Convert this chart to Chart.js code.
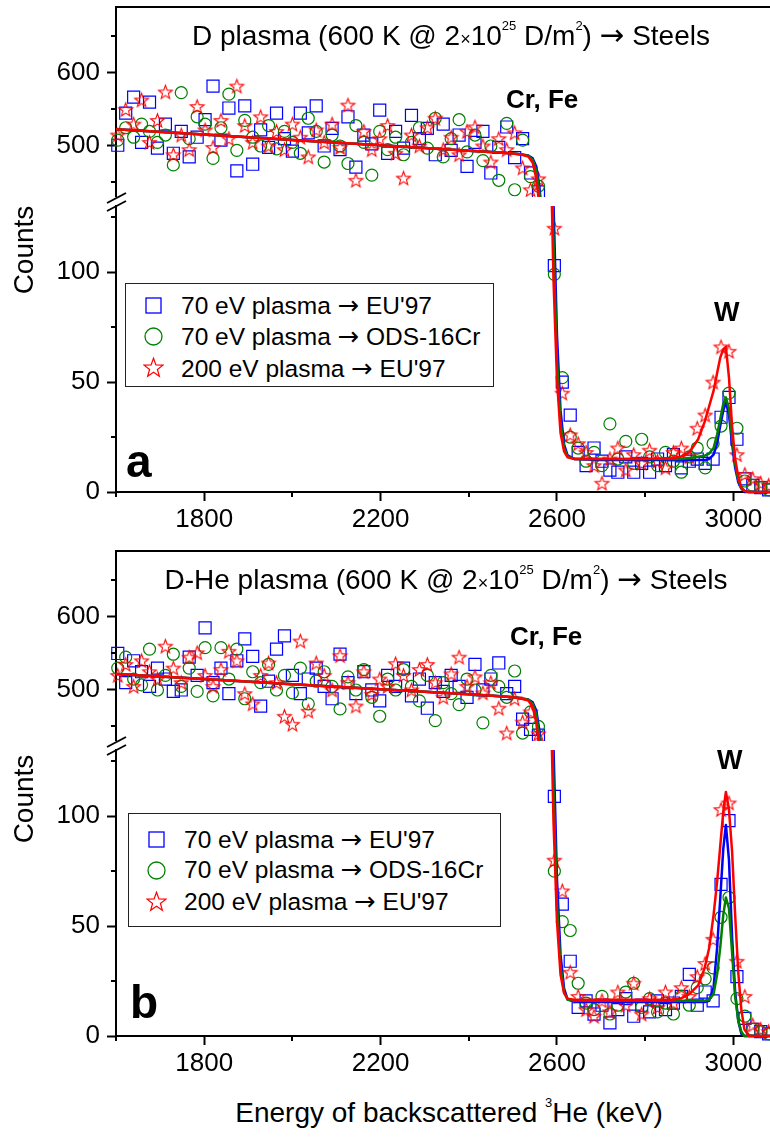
<!DOCTYPE html>
<html><head><meta charset="utf-8">
<script src="https://cdn.jsdelivr.net/npm/chart.js@4.4.1/dist/chart.umd.min.js"></script>
<style>
html,body{margin:0;padding:0;background:#fff;}
#wrap{position:relative;width:770px;height:1140px;overflow:hidden;font-family:"Liberation Sans",Arial,Helvetica,sans-serif;color:#000;}
#wrap canvas{position:absolute;left:0;}
.t{position:absolute;white-space:nowrap;}
.t sup{font-size:13px;line-height:0;vertical-align:baseline;position:relative;top:-15px;}
.ar{font-family:"DejaVu Sans",sans-serif;font-size:1.05em;}
.bold{font-weight:bold;}
.legend{position:absolute;border:1px solid #222;box-sizing:border-box;background:#fff;}
.rot{position:absolute;width:200px;text-align:center;transform:rotate(-90deg);white-space:nowrap;}
</style></head>
<body><div id="wrap">
<canvas id="aU" width="770" height="197" style="top:0px"></canvas>
<canvas id="aL" width="770" height="347" style="top:197px"></canvas>
<canvas id="bU" width="770" height="197" style="top:544px"></canvas>
<canvas id="bL" width="770" height="347" style="top:741px"></canvas>

<div class="t" style="left:451px;top:21px;font-size:28px;line-height:28px;transform:translateX(-50%)">D plasma (600 K @ 2<span style="font-size:18px">×</span>10<sup>25</sup> D/m<sup>2</sup>) <span class="ar">→</span> Steels</div>
<div class="t" style="left:446px;top:565px;font-size:28px;line-height:28px;transform:translateX(-50%)">D-He plasma (600 K @ 2<span style="font-size:18px">×</span>10<sup>25</sup> D/m<sup>2</sup>) <span class="ar">→</span> Steels</div>
<div class="t bold" style="left:506px;top:86px;font-size:26px;line-height:26px">Cr, Fe</div>
<div class="t bold" style="left:510px;top:623px;font-size:26px;line-height:26px">Cr, Fe</div>
<div class="t bold" style="left:714px;top:299px;font-size:27px;line-height:27px">W</div>
<div class="t bold" style="left:717px;top:747px;font-size:27px;line-height:27px">W</div>
<div class="t bold" style="left:126px;top:438px;font-size:46px;line-height:46px">a</div>
<div class="t bold" style="left:130px;top:979px;font-size:46px;line-height:46px">b</div>
<div class="rot" style="left:-76px;top:236px;font-size:28px;line-height:28px">Counts</div>
<div class="rot" style="left:-76px;top:785px;font-size:28px;line-height:28px">Counts</div>
<div class="t" style="left:449px;top:1099px;font-size:28px;line-height:28px;transform:translateX(-50%)">Energy of backscattered <sup>3</sup>He (keV)</div>
</div>
<script>
// ---------------- data ----------------
const energy = [
1604,1622,1640,1658,1676,1694,1712,1730,1748,1766,
1784,1802,1820,1838,1856,1874,1892,1910,1928,1946,
1964,1982,2000,2018,2036,2054,2072,2090,2108,2126,
2144,2162,2180,2198,2216,2234,2252,2270,2288,2306,
2324,2342,2360,2378,2396,2414,2432,2450,2468,2486,
2504,2522,2540,2558,2576,2594,2612,2630,2648,2666,
2684,2702,2720,2738,2756,2774,2792,2810,2828,2846,
2864,2882,2900,2918,2936,2954,2972,2990,3008,3026,
3044,3062,3080];

// panel a : D plasma
const blueA = [
501,545,567,505,560,497,530,490,520,485,
512,536,582,508,552,466,555,475,522,498,
545,510,493,545,518,555,500,524,495,540,
471,515,503,549,490,520,497,542,510,524,
488,530,494,515,472,505,520,463,498,526,
484,510,463,437,300,103,50,35,18,12,
20,14,10,9,16,9,13,9,15,12,
17,11,14,15,13,15,34,43,24,6,
3,2,1];
const greenA = [
508,525,512,530,520,505,515,474,573,510,
540,530,483,525,571,494,535,512,500,528,
496,520,505,490,538,520,478,515,500,476,
528,505,460,520,495,512,488,505,525,497,
538,485,510,536,492,515,480,500,453,531,
440,508,458,445,290,99,52,25,20,14,
18,12,31,15,23,13,24,16,12,18,
14,9,16,20,11,22,30,45,29,5,
3,2,1];
const redA = [
515,550,530,563,505,535,574,488,515,495,
554,522,498,535,510,582,528,505,540,500,
520,495,530,512,485,522,505,530,498,556,
453,520,495,510,528,490,456,515,500,525,
538,495,512,488,520,526,500,478,510,495,
518,470,440,455,310,120,45,26,22,18,
12,4,15,20,10,17,13,19,14,11,
18,20,16,29,35,50,66,64,17,8,
6,4,3];

// panel b : D-He plasma
const blueB = [
550,510,540,525,505,530,515,498,500,545,
520,585,510,530,495,540,570,546,478,512,
556,574,520,495,515,530,505,488,549,510,
495,525,500,485,520,505,530,492,515,475,
510,498,520,505,490,535,500,515,537,495,
505,460,446,438,300,109,60,34,13,16,
10,14,6,12,17,9,14,11,16,12,
15,18,28,14,20,16,69,98,27,8,
3,2,1];
const greenB = [
530,545,515,507,556,500,520,549,505,530,
498,558,492,558,515,556,488,525,510,535,
500,520,496,530,481,512,525,505,474,518,
500,528,490,464,515,500,528,505,485,520,
458,510,495,480,515,500,455,520,505,490,
526,441,470,450,290,75,52,48,24,15,
12,18,10,14,20,24,13,17,11,15,
10,18,14,22,26,31,54,63,17,9,
3,2,1];
const redB = [
520,535,505,540,525,515,560,530,510,545,
551,520,505,528,553,540,495,481,520,537,
510,464,453,567,471,537,520,500,547,510,
478,525,494,515,505,536,520,500,528,535,
510,490,522,545,505,518,496,510,475,441,
488,456,470,440,320,80,66,29,18,12,
9,16,11,20,14,24,10,17,13,20,
15,22,18,27,33,44,103,106,34,18,
5,3,2];

// fitted curves
const fitEnergy = [1600,1800,2000,2200,2400,2480,2500,2520,2535,2545,
2553,2560,2568,2576,2584,2592,2600,2608,2616,2624,
2640,2700,2800,2860,2880,2900,2920,2935,2945,2955,
2963,2970,2977,2983,2990,2997,3004,3011,3018,3025,
3035,3083];
const fitRedA = [523,515.6,508.3,501,493.5,490.6,489.8,488,485.5,477,
456,419,350,264,172,97,51,27,18.5,15.8,
15,15,15,15.5,16,18,24,32,39,46,
54,61,65,66,52,30,15,7,2,0.5,
0,0];
const fitBlueA = [523,515.6,508.3,501,493.5,490.6,489.8,488.5,487,483,
472,445,391,310,218,132,71,37,21.7,16.7,
15,14.5,14.5,14.5,14.5,14.5,14.5,14.5,15,17,
22,30,37,41,35,22,11,4.5,1.5,0,
0,0];
const fitGreenA = [523,515.6,508.3,501,493.5,490.6,489.8,488.3,486.5,481,
466,436,373,285,193,114,60,31.5,20,16.2,
15,15,15,15,15,15.5,16,16.5,17.5,20,
26,33,40,43,38,25,13,5.5,2,0.5,
0,0];
const fitRedB = [522,515,508,501,494,491,490,488,485.5,477,
456,419,350,265,172,98,52,28,19.5,17,
16.5,16.5,16.5,16.5,17,19,23,31,40,55,
70,86,102,111,103,84,55,29,12,3,
0,0];
const fitBlueB = [522,515,508,501,494,491,490,488.5,487,483,
472,445,391,310,218,132,71,37,21.7,16.7,
15.5,15.5,15.5,15.5,15.5,15.5,15.5,15.5,16,22,
40,62,85,96,80,45,20,7,1,0,
0,0];
const fitGreenB = [522,515,508,501,494,491,490,488.3,486.5,481,
466,436,373,285,193,114,60,31.5,20,16.5,
16,16,16,16,16,16,16,16,16.5,19,
28,40,55,63,58,38,18,7,2,0,
0,0];

const xTicksMajor = [1800, 2200, 2600, 3000];
const xTicksMinor = [1600, 2000, 2400, 2800];
const yUpperMajor = [500, 600], yUpperMinor = [450, 550, 650];
const yLowerMajor = [0, 50, 100], yLowerMinor = [25, 75, 125];
const legendLabels = ["70 eV plasma", "70 eV plasma", "200 eV plasma"];
const legendTargets = ["EU'97", "ODS-16Cr", "EU'97"];

// ---------------- drawing ----------------
const FONT = '"Liberation Sans", Arial, Helvetica, sans-serif';
Chart.defaults.font.family = FONT;
Chart.defaults.color = '#000';
const BLUE = '#0000ff', GREEN = '#008000', RED = '#ff0000';

function makeStar(R, r, color, lw) {
  const s = Math.ceil(2 * R + 2 * lw + 2);
  const c = document.createElement('canvas');
  c.width = s; c.height = s;
  const g = c.getContext('2d');
  g.beginPath();
  for (let k = 0; k < 10; k++) {
    const a = -Math.PI / 2 + k * Math.PI / 5;
    const rad = k % 2 ? r : R;
    g.lineTo(s / 2 + rad * Math.cos(a), s / 2 + 0.6 + rad * Math.sin(a));
  }
  g.closePath();
  g.strokeStyle = color; g.lineWidth = lw; g.stroke();
  return c;
}
const starImg = makeStar(7.2, 3.0, RED, 1.1);

const pts = (xs, ys) => xs.map((x, i) => ({x: x, y: ys[i]}));

function makeDatasets(fitB, fitG, fitR, b, g, r, clip) {
  const line = (ys, col) => ({data: pts(fitEnergy, ys), showLine: true, fill: false, borderColor: col,
    backgroundColor: col, borderWidth: 2.5, pointRadius: 0, tension: 0, borderJoinStyle: 'round', clip: clip});
  return [
    line(fitR, RED), line(fitG, GREEN), line(fitB, BLUE),
    {data: pts(energy, r), showLine: false, pointStyle: starImg, pointRadius: 7, clip: clip},
    {data: pts(energy, g), showLine: false, pointStyle: 'circle', pointRadius: 6, pointBorderColor: GREEN,
      pointBackgroundColor: 'rgba(0,0,0,0)', pointBorderWidth: 1.2, clip: clip},
    {data: pts(energy, b), showLine: false, pointStyle: 'rect', pointRadius: 8.5, pointBorderColor: BLUE,
      pointBackgroundColor: 'rgba(0,0,0,0)', pointBorderWidth: 1.2, clip: clip}
  ];
}

const decor = {
  id: 'decor',
  afterDraw(chart, args, o) {
    const ctx = chart.ctx, ca = chart.chartArea;
    ctx.save();
    ctx.strokeStyle = '#000'; ctx.lineWidth = 2;
    const seg = (x1, y1, x2, y2) => { ctx.beginPath(); ctx.moveTo(x1, y1); ctx.lineTo(x2, y2); ctx.stroke(); };
    const ys = chart.scales.y;
    (o.yMinor || []).forEach(v => { const p = Math.round(ys.getPixelForValue(v)); seg(ca.left - 5, p, ca.left, p); });
    if (o.xMinor) {
      const xs = chart.scales.x;
      o.xMinor.forEach(v => { const p = Math.round(xs.getPixelForValue(v)); seg(p, ca.bottom, p, ca.bottom + 5); });
    }
    if (o.frameTop) seg(ca.left - 1, ca.top, ca.right, ca.top);
    if (o.breakOffset !== undefined) {
      const d = o.breakOffset;
      ctx.lineWidth = 1.8;
      seg(107, 203 - d, 126, 193 - d);
      seg(107, 211 - d, 126, 201 - d);
    }
    ctx.restore();
  }
};

function makeChart(id, upper, ds, breakOffset) {
  const yMajor = upper ? yUpperMajor : yLowerMajor;
  const xScale = upper ? {type: 'linear', min: 1600, max: 3083, display: false} : {
    type: 'linear', min: 1600, max: 3083, display: true,
    afterFit: s => { s.height = 52; s.paddingLeft = 0; s.paddingRight = 0; },
    ticks: {stepSize: 200, includeBounds: false, autoSkip: false, maxRotation: 0, padding: 3,
            font: {size: 26, family: FONT}, color: '#000',
            callback: v => xTicksMajor.includes(v) ? String(v) : ''},
    grid: {display: true, drawOnChartArea: false, drawTicks: true, tickLength: 9, tickWidth: 2,
           tickColor: c => (c.tick && xTicksMajor.includes(c.tick.value)) ? '#000' : 'rgba(0,0,0,0)'},
    border: {display: true, color: '#000', width: 2}
  };
  const cfg = {
    type: 'scatter',
    data: {datasets: ds},
    options: {
      responsive: false, animation: false, devicePixelRatio: 1, events: [],
      layout: {autoPadding: false, padding: {top: upper ? 7 : 9, left: 0, right: 0, bottom: 0}},
      plugins: {
        legend: {display: false}, tooltip: {enabled: false},
        decor: {yMinor: upper ? yUpperMinor : yLowerMinor, xMinor: upper ? null : xTicksMinor,
                frameTop: upper, breakOffset: breakOffset}
      },
      scales: {
        x: xScale,
        y: {
          type: 'linear', min: upper ? 430.1 : 0, max: upper ? 690.4 : 130.1,
          afterFit: s => { s.width = 116; s.paddingTop = 0; s.paddingBottom = 0; },
          ticks: {stepSize: upper ? 50 : 25, includeBounds: false, autoSkip: false, padding: 7,
                  font: {size: 26, family: FONT}, color: '#000',
                  callback: v => yMajor.includes(v) ? String(v) : ''},
          grid: {display: true, drawOnChartArea: false, drawTicks: true, tickLength: 9, tickWidth: 2,
                 tickColor: c => (c.tick && yMajor.includes(c.tick.value)) ? '#000' : 'rgba(0,0,0,0)'},
          border: {display: true, color: '#000', width: 2}
        }
      }
    },
    plugins: [decor]
  };
  return new Chart(document.getElementById(id), cfg);
}

const clipU = {left: false, right: false, top: false, bottom: 0};
const clipL = {left: false, right: false, top: 0, bottom: false};
makeChart('aU', true, makeDatasets(fitBlueA, fitGreenA, fitRedA, blueA, greenA, redA, clipU), 0);
makeChart('aL', false, makeDatasets(fitBlueA, fitGreenA, fitRedA, blueA, greenA, redA, clipL), 197);
makeChart('bU', true, makeDatasets(fitBlueB, fitGreenB, fitRedB, blueB, greenB, redB, clipU), 0);
makeChart('bL', false, makeDatasets(fitBlueB, fitGreenB, fitRedB, blueB, greenB, redB, clipL), 197);

// ---------------- legends (HTML) ----------------
function starPoints(cx, cy, R, r) {
  const p = [];
  for (let k = 0; k < 10; k++) {
    const a = -Math.PI / 2 + k * Math.PI / 5, rad = k % 2 ? r : R;
    p.push((cx + rad * Math.cos(a)).toFixed(2) + ',' + (cy + rad * Math.sin(a)).toFixed(2));
  }
  return p.join(' ');
}
function addLegend(box, mx, my, tx, base) {
  const wrap = document.getElementById('wrap');
  const b = document.createElement('div');
  b.className = 'legend';
  b.style.cssText = `left:${box[0]}px;top:${box[1]}px;width:${box[2]}px;height:${box[3]}px;`;
  wrap.appendChild(b);
  const svgs = [
    `<rect x="3" y="3" width="15" height="15" fill="none" stroke="${BLUE}" stroke-width="1.3"/>`,
    `<circle cx="10.5" cy="10.5" r="8.5" fill="none" stroke="${GREEN}" stroke-width="1.3"/>`,
    `<polygon points="${starPoints(10.5, 11.2, 10, 4.1)}" fill="none" stroke="${RED}" stroke-width="1.2"/>`
  ];
  legendLabels.forEach((lab, i) => {
    const s = document.createElement('div');
    s.style.cssText = `position:absolute;left:${mx - 10.5}px;top:${my[i] - 10.5}px;width:21px;height:21px;`;
    s.innerHTML = `<svg width="21" height="21" xmlns="http://www.w3.org/2000/svg">${svgs[i]}</svg>`;
    wrap.appendChild(s);
    const t = document.createElement('div');
    t.className = 't';
    t.style.cssText = `left:${tx}px;top:${(base[i] - 0.8465 * 24.5).toFixed(1)}px;font-size:24.5px;line-height:24.5px;`;
    t.appendChild(document.createTextNode(lab + ' '));
    const a = document.createElement('span');
    a.className = 'ar'; a.textContent = '→';
    t.appendChild(a);
    t.appendChild(document.createTextNode(' ' + legendTargets[i]));
    wrap.appendChild(t);
  });
}
addLegend([125, 283, 369, 104], 153, [305, 336.5, 367], 181, [314, 345, 377]);
addLegend([128, 813, 373, 114], 156, [839, 870, 901], 184, [848, 878, 910]);
</script>
</body></html>
